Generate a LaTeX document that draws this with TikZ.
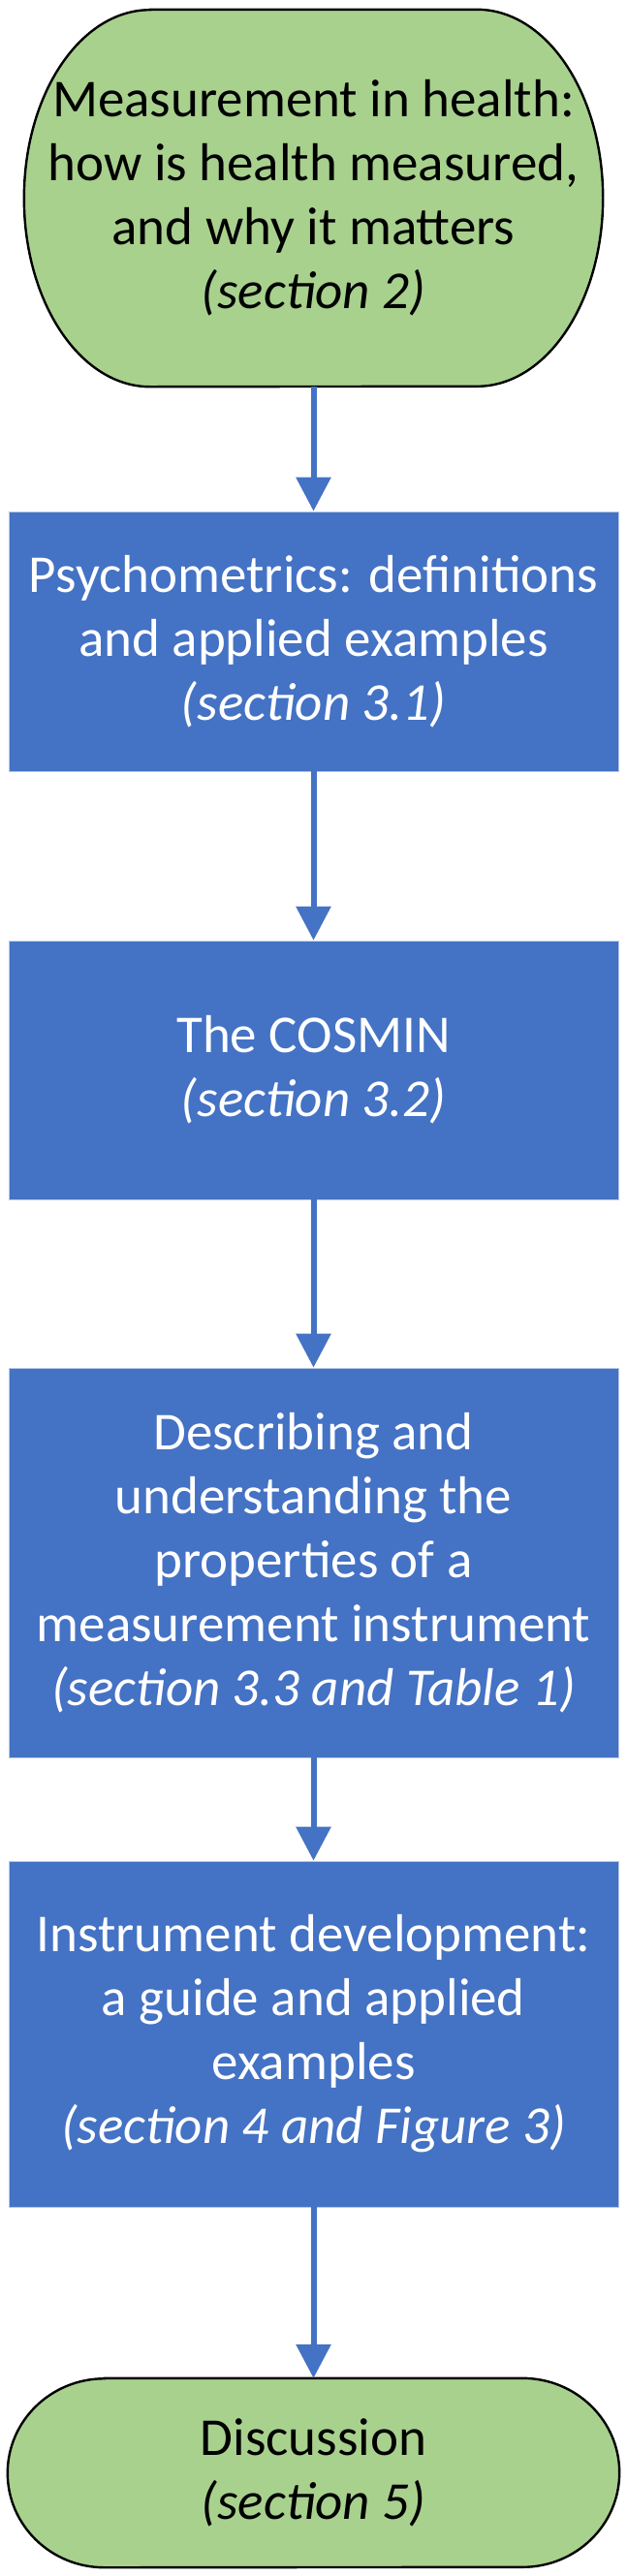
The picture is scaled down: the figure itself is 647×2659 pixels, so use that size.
\documentclass[tikz,border=0pt]{standalone}
\usepackage{fontspec}
\setmainfont{Carlito}
\usetikzlibrary{arrows.meta}
\definecolor{boxblue}{HTML}{4472C4}
\definecolor{termgreen}{HTML}{A9D18E}
\definecolor{edgeblue}{HTML}{B4C7E7}
\pgfdeclarelayer{background}
\pgfsetlayers{background,main}
\begin{document}
\begin{tikzpicture}[x=1pt,y=1pt,
  bluebox/.style={rectangle, fill=boxblue, draw=edgeblue, line width=0.8pt, text=white,
    align=center, inner sep=0pt, minimum width=629pt, font=\fontsize{55}{66}\selectfont},
  termtext/.style={rectangle, inner sep=0pt, text=black, align=center,
    font=\fontsize{55}{66}\selectfont},
  termshape/.style={fill=termgreen, draw=black, line width=2.4pt},
  flow/.style={draw=boxblue, line width=6pt, -{Triangle[length=35pt,width=35pt]}}]
\useasboundingbox (0,0) rectangle (647,-2659);

% start terminator
\node[termtext, minimum width=597pt, minimum height=389pt] (g) at (323.5,-204.5)
  {Measurement in health:\\how is health measured,\\and why it matters\\\textit{(section 2)}};
\begin{pgfonlayer}{background}
\path[termshape] ([xshift=130pt]g.north west) -- ([xshift=-130pt]g.north east)
  arc[start angle=90, end angle=-90, x radius=130, y radius=194.5]
  -- ([xshift=130pt]g.south west)
  arc[start angle=270, end angle=90, x radius=130, y radius=194.5] -- cycle;
\end{pgfonlayer}

\node[bluebox, minimum height=268pt] (b1) at (323.5,-662)
  {Psychometrics: definitions\\and applied examples\\\textit{(section 3.1)}};
\node[bluebox, minimum height=267pt] (b2) at (323.5,-1104.5)
  {The COSMIN\\\textit{(section 3.2)}};
\node[bluebox, minimum height=402pt] (b3) at (323.5,-1613)
  {Describing and\\understanding the\\properties of a\\measurement instrument\\\textit{(section 3.3 and Table 1)}};
\node[bluebox, minimum height=357pt] (b4) at (323.5,-2099.5)
  {Instrument development:\\a guide and applied\\examples\\\textit{(section 4 and Figure 3)}};

% end terminator
\node[termtext, minimum width=631pt, minimum height=195pt] (d) at (323.5,-2552.5)
  {Discussion\\\textit{(section 5)}};
\begin{pgfonlayer}{background}
\path[termshape] ([xshift=100pt]d.north west) -- ([xshift=-100pt]d.north east)
  arc[start angle=90, end angle=-90, x radius=100, y radius=97.5]
  -- ([xshift=100pt]d.south west)
  arc[start angle=270, end angle=90, x radius=100, y radius=97.5] -- cycle;
\end{pgfonlayer}

\draw[flow] (g.south) -- (b1.north);
\draw[flow] (b1.south) -- (b2.north);
\draw[flow] (b2.south) -- (b3.north);
\draw[flow] (b3.south) -- (b4.north);
\draw[flow] (b4.south) -- (d.north);
\end{tikzpicture}
\end{document}
